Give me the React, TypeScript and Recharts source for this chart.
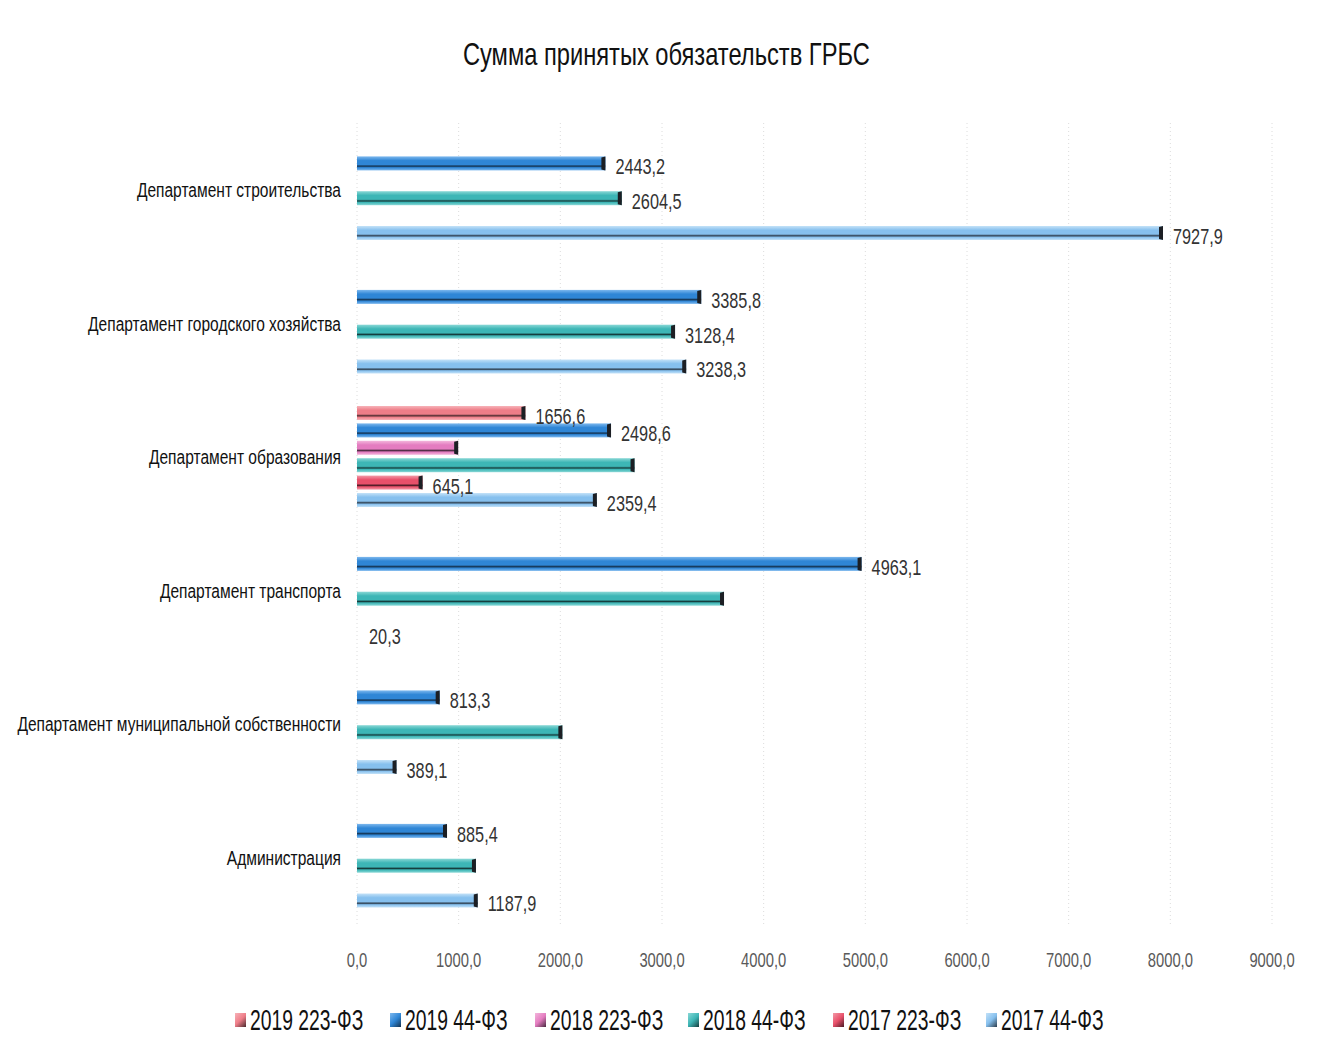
import React from 'react';
import { BarChart, Bar, XAxis, YAxis, CartesianGrid, Legend, LabelList } from 'recharts';

const FONT = "'Liberation Sans', Arial, sans-serif";
const SX = 0.74; // horizontal squeeze to imitate a narrow face

const categories = [
  'Департамент строительства',
  'Департамент городского хозяйства',
  'Департамент образования',
  'Департамент транспорта',
  'Департамент муниципальной собственности',
  'Администрация',
];

const v2019_223 = [null, null, 1656.6, null, null, null];
const v2019_44 = [2443.2, 3385.8, 2498.6, 4963.1, 813.3, 885.4];
const v2018_223 = [null, null, 995, null, null, null];
const v2018_44 = [2604.5, 3128.4, 2730, 3610, 2020, 1170];
const v2017_223 = [null, null, 645.1, null, null, null];
const v2017_44 = [7927.9, 3238.3, 2359.4, 20.3, 389.1, 1187.9];

// which bars carry a value label in the original
const lbl2019_223 = [false, false, true, false, false, false];
const lbl2019_44 = [true, true, true, true, true, true];
const lbl2018_223 = [false, false, false, false, false, false];
const lbl2018_44 = [true, true, false, false, false, false];
const lbl2017_223 = [false, false, true, false, false, false];
const lbl2017_44 = [true, true, true, true, true, true];

const xTicks = [0, 1000, 2000, 3000, 4000, 5000, 6000, 7000, 8000, 9000];

const series = [
  { key: 's0', name: '2019 223-ФЗ', values: v2019_223, labels: lbl2019_223, base: '#ee7d88', light: '#f7b3b9', dark: '#4a2a2e' },
  { key: 's1', name: '2019 44-ФЗ', values: v2019_44, labels: lbl2019_44, base: '#2f86d6', light: '#7db8ee', dark: '#14324f' },
  { key: 's2', name: '2018 223-ФЗ', values: v2018_223, labels: lbl2018_223, base: '#e47cc0', light: '#f3b6dc', dark: '#4a2a40' },
  { key: 's3', name: '2018 44-ФЗ', values: v2018_44, labels: lbl2018_44, base: '#3db6b6', light: '#8ad8d6', dark: '#163e3e' },
  { key: 's4', name: '2017 223-ФЗ', values: v2017_223, labels: lbl2017_223, base: '#e8506a', light: '#f39aa8', dark: '#4a1a24' },
  { key: 's5', name: '2017 44-ФЗ', values: v2017_44, labels: lbl2017_44, base: '#86c0ee', light: '#c4e2f8', dark: '#2e3e4e' },
];

const fmt = (v: number) => v.toFixed(1).replace('.', ',');

const data = categories.map((name, i) => {
  const row: any = { name };
  series.forEach((s) => {
    const v = s.values[i];
    row[s.key] = v;
    row[`${s.key}_lbl`] = v != null && s.labels[i] ? fmt(v) : null;
  });
  return row;
});

const NarrowText = ({ x, y, size, fill, anchor = 'start', children }: any) => (
  <text
    transform={`translate(${x},${y}) scale(${SX},1)`}
    x={0}
    y={0}
    textAnchor={anchor}
    dominantBaseline="central"
    fontFamily={FONT}
    fontSize={size}
    fill={fill}
  >
    {children}
  </text>
);

const makeShape = (si: number) => (props: any) => {
  const { x, y, width, height, payload } = props;
  const s = series[si];
  if (payload?.[s.key] == null || height == null) return null;
  const w = Math.max(width, 0);
  if (w <= 4) return null;
  return (
    <g>
      <rect x={x} y={y} width={w} height={height} fill={`url(#grad-${s.key})`} />
      <path
        d={`M${x + w - 4},${y + 1} L${x + w},${y} L${x + w},${y + height} L${x + w - 4},${y + height - 1} Z`}
        fill="#1c1f24"
      />
    </g>
  );
};

const renderValueLabel = (props: any) => {
  const { x, y, width, height, value } = props;
  if (value == null || value === '') return null;
  const w = Math.max(Number(width) || 0, 0);
  return (
    <NarrowText x={Number(x) + w + 10} y={Number(y) + Number(height) / 2 + 3} size={22} fill="#333">
      {value}
    </NarrowText>
  );
};

const XTick = (props: any) => (
  <NarrowText x={props.x} y={props.y + 10} size={20} fill="#5a5a5a" anchor="middle">
    {fmt(props.payload.value)}
  </NarrowText>
);

const YTick = (props: any) => (
  <NarrowText x={props.x} y={props.y} size={21} fill="#111" anchor="end">
    {props.payload.value}
  </NarrowText>
);

const legendLeft = [235, 390, 535, 688, 833, 986];

const renderLegend = () => (
  <div style={{ position: 'relative', width: 1328, height: 40, fontFamily: FONT, fontSize: 29, color: '#111' }}>
    {series.map((s, i) => (
      <div key={s.key} style={{ position: 'absolute', left: legendLeft[i], top: 0, height: 40, display: 'flex', alignItems: 'center' }}>
        <span
          style={{
            display: 'inline-block',
            width: 11,
            height: 14,
            background: `linear-gradient(135deg, ${s.light} 0%, ${s.base} 50%, ${s.dark} 100%)`,
          }}
        />
        <span style={{ display: 'inline-block', marginLeft: 4, transform: `scaleX(${SX * 0.9})`, transformOrigin: 'left center', whiteSpace: 'nowrap' }}>
          {s.name}
        </span>
      </div>
    ))}
  </div>
);

export default function App() {
  return (
    <div style={{ position: 'absolute', left: 0, top: 0, width: 1328, height: 1056, background: '#fff' }}>
      <div
        style={{
          position: 'absolute',
          left: 0,
          top: 36,
          width: 1333,
          textAlign: 'center',
          fontFamily: FONT,
          fontSize: 32,
          color: '#111',
          transform: `scaleX(${SX})`,
          transformOrigin: '666px center',
        }}
      >
        Сумма принятых обязательств ГРБС
      </div>
      <BarChart
        width={1328}
        height={1056}
        data={data}
        layout="vertical"
        margin={{ top: 123, right: 56, bottom: 62, left: 0 }}
        barSize={14}
        barGap={3.4}
      >
        <defs>
          {series.map((s) => (
            <linearGradient key={s.key} id={`grad-${s.key}`} x1="0" y1="0" x2="0" y2="1">
              <stop offset="0%" stopColor={s.light} />
              <stop offset="30%" stopColor={s.base} />
              <stop offset="58%" stopColor={s.base} />
              <stop offset="70%" stopColor={s.dark} />
              <stop offset="80%" stopColor={s.base} />
              <stop offset="100%" stopColor={s.light} />
            </linearGradient>
          ))}
        </defs>
        <CartesianGrid horizontal={false} stroke="#dcdcdc" strokeDasharray="1 3" />
        <XAxis
          type="number"
          domain={[0, 9000]}
          ticks={xTicks}
          height={30}
          axisLine={false}
          tickLine={false}
          tickSize={6}
          tickMargin={20}
          tick={<XTick />}
        />
        <YAxis
          type="category"
          dataKey="name"
          width={357}
          axisLine={false}
          tickLine={false}
          tickSize={6}
          tickMargin={10}
          interval={0}
          tick={<YTick />}
        />
        <Legend
          content={renderLegend}
          wrapperStyle={{ position: 'absolute', left: 0, top: 1000, width: 1328, height: 40 }}
        />
        {series.map((s, i) => (
          <Bar key={s.key} dataKey={s.key} name={s.name} fill={s.base} shape={makeShape(i)} isAnimationActive={false}>
            <LabelList dataKey={`${s.key}_lbl`} content={renderValueLabel} />
          </Bar>
        ))}
      </BarChart>
    </div>
  );
}
